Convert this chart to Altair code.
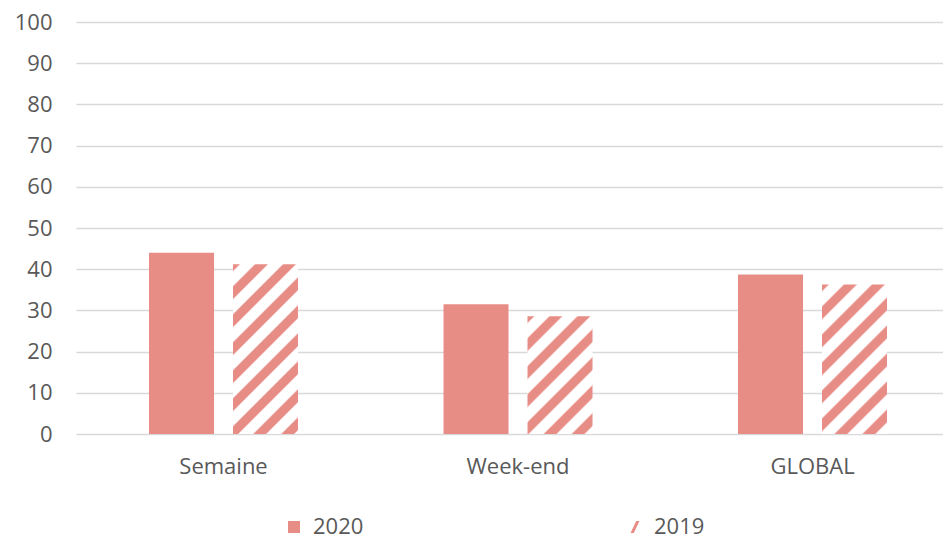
import altair as alt
import pandas as pd

categories = ["Semaine", "Week-end", "GLOBAL"]
values_2020 = [44.0, 31.5, 38.7]
values_2019 = [41.2, 28.6, 36.3]
years = ["2020", "2019"]
y_ticks = list(range(0, 101, 10))

rows = []
for c, a, b in zip(categories, values_2020, values_2019):
    rows.append({"cat": c, "year": "2020", "v": a})
    rows.append({"cat": c, "year": "2019", "v": b})
df = pd.DataFrame(rows)

W, H = 867, 412
PINK = "#E88D86"
FONT = "Open Sans"
TXT = "#595959"
GRID = "#D9D9D9"

PI, PO, AL = 0.494, 0.219, 0.566
PI2 = 0.226

x_scale = alt.Scale(domain=categories, paddingInner=PI, paddingOuter=PO, align=AL)
xo_scale = alt.Scale(domain=years, paddingInner=PI2, paddingOuter=0)
y_scale = alt.Scale(domain=[0, 100])

# bar pixel width (same arithmetic as the band scales)
step = W / (len(categories) - PI + 2 * PO)
band = step * (1 - PI)
step2 = band / (len(years) - PI2)
bar_w = step2 * (1 - PI2)


def hatch(w, h, period=28.0, frac=0.46, soft=2.0, phase=6.0):
    total = w + h
    k = (w + h) / (w * w + h * h)

    def color_at(p):
        m = (p + phase) % period
        return PINK if m < frac * period else "white"

    stops = [alt.GradientStop(offset=0, color=color_at(0))]
    for i in range(int(total / period) + 3):
        base = i * period - phase
        for b, c0, c1 in [(base, "white", PINK), (base + frac * period, PINK, "white")]:
            lo, hi = b - soft / 2, b + soft / 2
            if lo > 0 and hi < total:
                stops.append(alt.GradientStop(offset=lo / total, color=c0))
                stops.append(alt.GradientStop(offset=hi / total, color=c1))
    stops.append(alt.GradientStop(offset=1, color=color_at(total)))
    return alt.LinearGradient(gradient="linear", x1=0, y1=0, x2=w * k, y2=h * k, stops=stops)


y_axis = alt.Axis(title=None, values=y_ticks, domain=False, ticks=False,
                  tickSize=0, labelPadding=24, grid=True,
                  gridColor=GRID, gridWidth=1.5)

base = alt.Chart(df)
enc = dict(
    x=alt.X("cat:N", scale=x_scale, sort=categories,
            axis=alt.Axis(title=None, labelAngle=0, domain=False, ticks=False,
                          labelPadding=22, grid=False)),
    xOffset=alt.XOffset("year:N", scale=xo_scale, sort=years),
    y=alt.Y("v:Q", scale=y_scale, axis=y_axis),
)

legend_pts = base.transform_calculate(half="datum.v / 2").mark_point(
    filled=True, size=144, strokeWidth=0, opacity=1
).encode(
    x=enc["x"], xOffset=enc["xOffset"],
    y=alt.Y("half:Q", scale=y_scale, axis=y_axis),
    color=alt.Color("year:N", scale=alt.Scale(domain=years, range=[PINK, PINK]),
                    legend=alt.Legend(title=None, orient="none", legendX=207, legendY=494,
                                      direction="horizontal", columnPadding=260,
                                      symbolSize=144, symbolStrokeWidth=0,
                                      symbolOpacity=1, labelOffset=8, padding=0)),
    shape=alt.Shape("year:N", scale=alt.Scale(
        domain=years,
        range=["M-1,-1H1V1H-1Z", "M-0.75,1L-0.2,1L0.75,-1L0.2,-1Z"])),
)

bars_2020 = base.transform_filter(alt.datum.year == "2020").mark_bar(color=PINK).encode(**enc)

layers = [legend_pts, bars_2020]
for c, v in zip(categories, values_2019):
    h = v * H / 100.0
    layers.append(
        base.transform_filter((alt.datum.year == "2019") & (alt.datum.cat == c))
        .mark_bar(fill=hatch(bar_w, h), strokeWidth=0)
        .encode(**enc)
    )

chart = alt.layer(*layers).properties(
    width=W, height=H,
    autosize=alt.AutoSizeParams(type="none"),
    padding={"left": 68, "top": 14, "right": 0, "bottom": 104},
).configure_view(stroke=None).configure_axis(
    labelFont=FONT, labelFontSize=22, labelColor=TXT
).configure_legend(
    labelFont=FONT, labelFontSize=22, labelColor=TXT
)

chart.save("out.html", embed_options={"renderer": "svg", "actions": False})
